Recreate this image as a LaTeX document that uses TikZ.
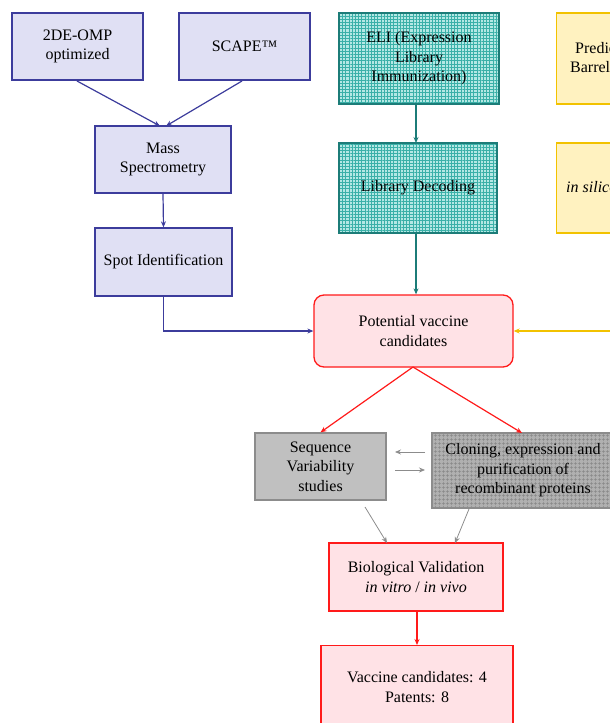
\documentclass[tikz,border=0pt]{standalone}
\usepackage{fontspec}
\setmainfont{Liberation Serif}
\usetikzlibrary{arrows.meta,patterns.meta}
\definecolor{lavfill}{HTML}{E0E0F4}
\definecolor{lavline}{HTML}{3C3C9C}
\definecolor{tealline}{HTML}{1C7C78}
\definecolor{tealbg}{HTML}{B4E8E4}
\definecolor{tealgrid}{HTML}{3AB0A8}
\definecolor{yelline}{HTML}{F2C200}
\definecolor{yelfill}{HTML}{FFF2C0}
\definecolor{pinkfill}{HTML}{FFE2E6}
\definecolor{redline}{HTML}{FF1A1A}
\definecolor{greyfill}{HTML}{C0C0C0}
\definecolor{greyline}{HTML}{8C8C8C}
\definecolor{greybg}{HTML}{B0B0B0}
\definecolor{greygrid}{HTML}{888888}
\tikzset{
  box/.style={draw, line width=1.3pt, align=center, inner sep=0pt,
    font=\fontsize{16}{19.5}\selectfont, text=black},
  lav/.style={box, draw=lavline, fill=lavfill},
  tealbox/.style={box, draw=tealline, preaction={fill=tealbg},
    pattern={Hatch[angle=0,distance=3.2pt,line width=0.45pt]}, pattern color=tealgrid},
  yelbox/.style={box, draw=yelline, fill=yelfill},
  pinkbox/.style={box, draw=redline, fill=pinkfill},
  greybox/.style={box, draw=greyline, fill=greyfill},
  gridgrey/.style={box, draw=greyline, preaction={fill=greybg},
    pattern={Hatch[angle=0,distance=4pt,line width=0.45pt]}, pattern color=greygrid},
  arr/.style={line width=1.2pt, -{Stealth[length=6pt,width=5pt]}},
  thinarr/.style={line width=0.8pt, -{Stealth[length=6pt,width=5pt]}},
  plaintext/.style={inner sep=0pt, font=\fontsize{16}{19.5}\selectfont, text=black},
}
\begin{document}
\begin{tikzpicture}[x=1pt,y=-1pt]
\useasboundingbox (0,0) rectangle (610,723);
\clip (0,0) rectangle (610,723);
% left column
\node[lav, minimum width=131pt, minimum height=67pt] (omp) at (77.5,46.5) {2DE-OMP\\optimized};
\node[lav, minimum width=131pt, minimum height=67pt] (scape) at (244.5,46.5) {SCAPE™};
\node[lav, minimum width=136pt, minimum height=67pt] (mass) at (163,159.5) {Mass\\Spectrometry};
\node[lav, minimum width=137pt, minimum height=68pt] (spot) at (163.5,262) {Spot Identification};
% middle column
\node[tealbox, minimum width=160pt, minimum height=91pt] (eli) at (419,58.5) {ELI (Expression\\Library\\Immunization)};
\node[tealbox, minimum width=158pt, minimum height=90pt] (dec) at (418,188) {Library Decoding};
% right column (cut off)
\node[yelbox, minimum width=170pt, minimum height=91pt, anchor=west] (pred) at (556,58.5) {};
\node[plaintext, anchor=west, align=left] (predtxt) at (570,59) {\hspace*{5pt}Prediction of β-\\Barrel proteins};
\node[yelbox, minimum width=170pt, minimum height=90pt, anchor=west] (sil) at (556,188) {};
\node[plaintext, anchor=west, font=\fontsize{16}{19.5}\itshape] (siltxt) at (566,189) {in silico analysis};
% centre
\node[pinkbox, rounded corners=10pt, minimum width=199pt, minimum height=72pt] (pot) at (413.5,331) {Potential vaccine\\candidates};
\node[greybox, minimum width=131pt, minimum height=67pt] (seq) at (320.5,466.5) {Sequence\\Variability\\studies};
\node[gridgrey, minimum width=182pt, minimum height=75pt] (clo) at (523,470.5) {Cloning, expression and\\purification of\\recombinant proteins};
\node[pinkbox, minimum width=174pt, minimum height=68pt] (bio) at (416,577) {Biological Validation\\\textit{in vitro} / \textit{in vivo}};
\node[pinkbox, minimum width=192pt, minimum height=100pt, anchor=north] (vac) at (417,645) {};
\node[plaintext, align=center] (vactxt) at (417,687) {Vaccine candidates: 4\\Patents: 8};
% connectors
\coordinate (ompb) at (77,81);
\coordinate (scapeb) at (242,81);
\draw[arr, lavline] (ompb) -- (160,126);
\draw[arr, lavline] (scapeb) -- (166,126);
\draw[arr, lavline] (mass.south) -- (spot.north);
\draw[arr, lavline] (spot.south) |- (pot.west);
\draw[arr, tealline] (eli.south -| 416,0) -- (416,143);
\draw[arr, tealline] (dec.south -| 416,0) -- (pot.north -| 416,0);
\coordinate (yelsrc) at (612,331);
\draw[arr, yelline] (yelsrc) -- (pot.east);
\coordinate (potb) at (413,367);
\draw[arr, redline] (potb) -- (seq.north);
\draw[arr, redline] (potb) -- (522,433);
\draw[thinarr, greyline] (425,452) -- (395,452);
\draw[thinarr, greyline] (395,470) -- (425,470);
\draw[thinarr, greyline] (365,507) -- (387,543);
\draw[thinarr, greyline] (469,509) -- (455,543);
\draw[arr, redline] (bio.south -| 417,0) -- (vac.north);
\end{tikzpicture}
\end{document}
